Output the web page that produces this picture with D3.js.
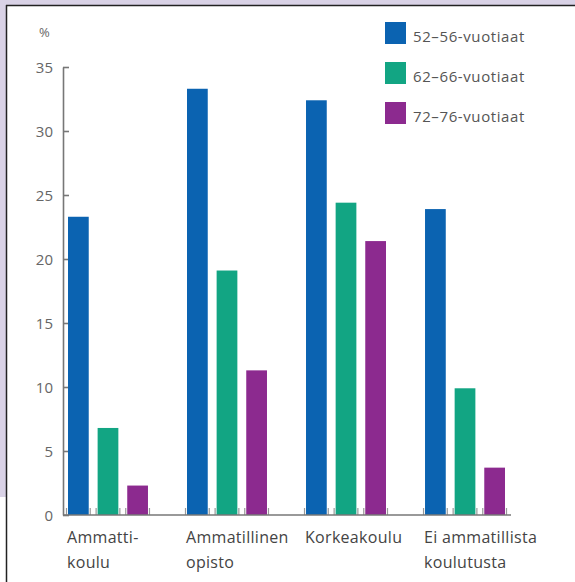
<!DOCTYPE html>
<html>
<head>
<meta charset="utf-8">
<script src="https://cdn.jsdelivr.net/npm/d3@7"></script>
<style>
  html, body { margin: 0; padding: 0; background: #fff; }
  svg { display: block; }
  text { font-family: "Open Sans", "Noto Sans", sans-serif; }
</style>
</head>
<body>
<svg id="chart" width="575" height="582"></svg>
<script>
// Koulutus ikäryhmittäin, %
const categories = [["Ammatti-", "koulu"], ["Ammatillinen", "opisto"], ["Korkeakoulu"], ["Ei ammatillista", "koulutusta"]];
const seriesNames = ["52–56-vuotiaat", "62–66-vuotiaat", "72–76-vuotiaat"];
const values52 = [23.3, 33.3, 32.4, 23.9];
const values62 = [6.8, 19.1, 24.4, 9.9];
const values72 = [2.3, 11.3, 21.4, 3.7];
const yTicks = [0, 5, 10, 15, 20, 25, 30, 35];
const colors = ["#0b63b1", "#12a583", "#8c2a8f"];

const seriesValues = [values52, values62, values72];
const svg = d3.select("#chart");

// frame: lavender margin with a dark rule on top and left
svg.append("rect").attr("x", 0).attr("y", 0).attr("width", 575).attr("height", 582).attr("fill", "#fff");
svg.append("rect").attr("x", 0).attr("y", 0).attr("width", 575).attr("height", 5).attr("fill", "#d9d2e6");
svg.append("rect").attr("x", 0).attr("y", 0).attr("width", 6).attr("height", 497).attr("fill", "#d9d2e6");
svg.append("line").attr("x1", 6).attr("x2", 575).attr("y1", 5.5).attr("y2", 5.5).attr("stroke", "#222").attr("stroke-width", 1.5);
svg.append("line").attr("x1", 6.5).attr("x2", 6.5).attr("y1", 5).attr("y2", 582).attr("stroke", "#222").attr("stroke-width", 1.5);

const y = d3.scaleLinear().domain([0, 35]).range([515, 67]);
const axisX = 63;

const idx = d3.range(categories.length);
const x0 = d3.scaleBand().domain(idx).range([68, 505]).paddingInner(0.328).paddingOuter(0);
const x1 = d3.scaleBand().domain(d3.range(seriesNames.length)).range([0, x0.bandwidth()]).paddingInner(0.3).paddingOuter(0);

// y axis
const yAxis = d3.axisLeft(y).tickValues(yTicks).tickSize(-6).tickSizeOuter(0);
const gy = svg.append("g").attr("transform", `translate(${axisX},0)`).call(yAxis);
gy.select(".domain").attr("stroke", "#777").attr("stroke-width", 1.6);
gy.selectAll(".tick line").attr("stroke", "#777").attr("stroke-width", 1.6);
gy.selectAll(".tick text").attr("fill", "#666").attr("font-size", 15).attr("x", -10).attr("dy", "0.34em");

svg.append("text").attr("x", 39).attr("y", 37).attr("fill", "#666").attr("font-size", 13).text("%");

// bars
const groups = svg.append("g").selectAll("g").data(idx).join("g")
  .attr("transform", i => `translate(${x0(i)},0)`);

groups.selectAll("rect").data(i => seriesValues.map((s, k) => ({ k, v: s[i] }))).join("rect")
  .attr("x", d => x1(d.k))
  .attr("width", x1.bandwidth())
  .attr("y", d => y(d.v))
  .attr("height", d => y(0) - y(d.v))
  .attr("fill", d => colors[d.k]);

// small ticks at bar edges along the baseline
groups.selectAll("line.edge").data(() => {
  const pts = [];
  seriesValues.forEach((s, k) => { pts.push(x1(k) - 1.5, x1(k) + x1.bandwidth() + 1.5); });
  return pts;
}).join("line")
  .attr("class", "edge")
  .attr("x1", d => d).attr("x2", d => d)
  .attr("y1", y(0)).attr("y2", y(0) - 7)
  .attr("stroke", "#999").attr("stroke-width", 1.2);

// baseline
svg.append("line").attr("x1", axisX).attr("x2", x0(idx[idx.length - 1]) + x0.bandwidth() + 6)
  .attr("y1", y(0)).attr("y2", y(0)).attr("stroke", "#777").attr("stroke-width", 1.6);

// category labels
svg.append("g").selectAll("text").data(idx).join("text")
  .attr("y", 543)
  .attr("fill", "#444")
  .attr("font-size", 16)
  .attr("letter-spacing", 0.3)
  .each(function (i) {
    d3.select(this).selectAll("tspan").data(categories[i]).join("tspan")
      .attr("x", x0(i) - 1)
      .attr("dy", (d, j) => j === 0 ? 0 : 25)
      .text(d => d);
  });

// legend
const legend = svg.append("g").attr("transform", "translate(385,22)");
const lg = legend.selectAll("g").data(seriesNames).join("g")
  .attr("transform", (d, k) => `translate(0,${k * 40})`);
lg.append("rect").attr("width", 21).attr("height", 22).attr("fill", (d, k) => colors[k]);
lg.append("text").attr("x", 28).attr("y", 20).attr("fill", "#555").attr("font-size", 15)
  .attr("letter-spacing", 0.6).text(d => d);
</script>
</body>
</html>
